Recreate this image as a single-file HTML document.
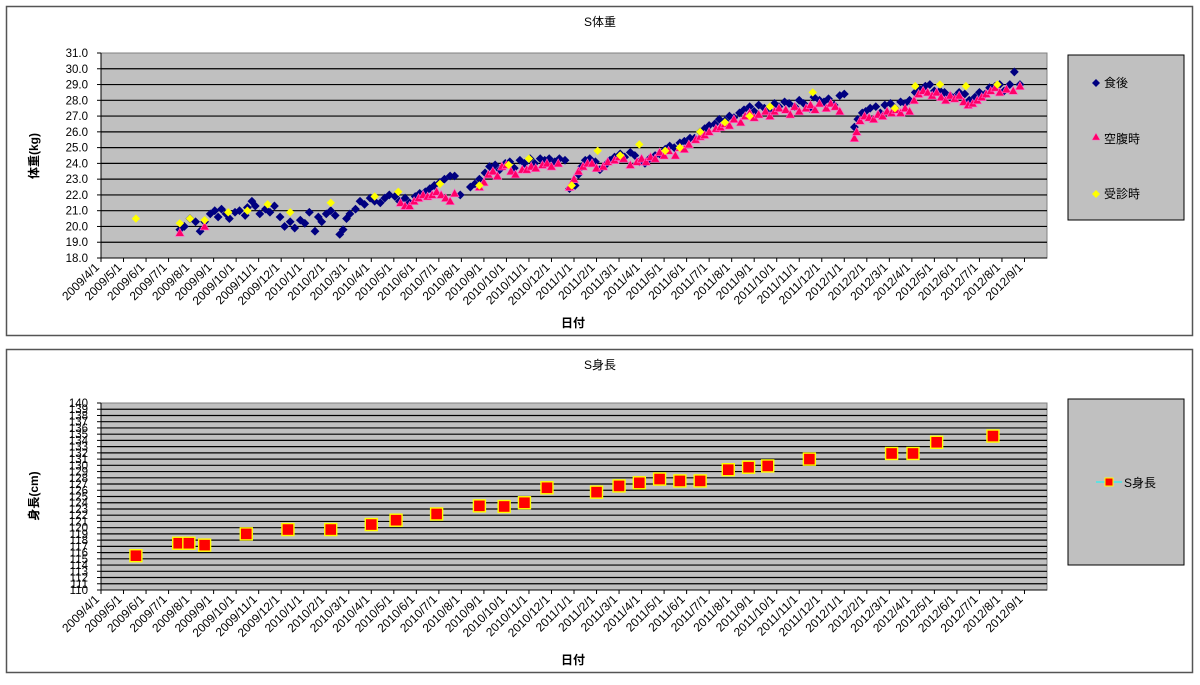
<!DOCTYPE html>
<html><head><meta charset="utf-8">
<style>
body{margin:0;background:#fff;width:1200px;height:680px;overflow:hidden;font-family:"Liberation Sans","Noto Sans CJK JP",sans-serif;}
svg text{font-family:"Liberation Sans","Noto Sans CJK JP",sans-serif;}
</style></head>
<body>
<svg id="s" width="1200" height="680" xmlns="http://www.w3.org/2000/svg">
<rect x="6.5" y="6.5" width="1186" height="329" fill="#fff" stroke="#555" stroke-width="1.5"/>
<rect x="6.5" y="349.5" width="1186" height="323" fill="#fff" stroke="#555" stroke-width="1.5"/>
<text x="600" y="26" font-size="12" text-anchor="middle">S体重</text>
<text x="600" y="369" font-size="12" text-anchor="middle">S身長</text>
<g id="topPlot"></g>
<g id="botPlot"></g>
<text transform="translate(38,156) rotate(-90)" font-size="12" font-weight="bold" text-anchor="middle">体重(kg)</text>
<text transform="translate(38,496) rotate(-90)" font-size="12" font-weight="bold" text-anchor="middle">身長(cm)</text>
<text x="573" y="327" font-size="12" font-weight="bold" text-anchor="middle">日付</text>
<text x="573" y="664" font-size="12" font-weight="bold" text-anchor="middle">日付</text>
<g>
<rect x="1068" y="55" width="116" height="165" fill="#c0c0c0" stroke="#000"/>
<g><path d="M1096 79 l4 4 -4 4 -4 -4z" fill="#000080"/><text x="1104" y="87" font-size="12">食後</text></g>
<g><path d="M1096 133 l4 7 -8 0z" fill="#ff0066" stroke="#ff66cc" stroke-width="0.5"/><text x="1104" y="143" font-size="12">空腹時</text></g>
<g><path d="M1096 190 l4 4 -4 4 -4 -4z" fill="#ffff00"/><text x="1104" y="198" font-size="12">受診時</text></g>
</g>
<g>
<rect x="1068" y="399" width="116" height="166" fill="#c0c0c0" stroke="#000"/>
<g><line x1="1096" y1="482" x2="1122" y2="482" stroke="#00ffff" stroke-width="1"/><rect x="1105" y="478" width="8" height="8" fill="#ff0000" stroke="#ffff00"/><text x="1124" y="487" font-size="12">S身長</text></g>
</g>
</svg>
<script>
const months=["2009/4/1","2009/5/1","2009/6/1","2009/7/1","2009/8/1","2009/9/1","2009/10/1","2009/11/1","2009/12/1","2010/1/1","2010/2/1","2010/3/1","2010/4/1","2010/5/1","2010/6/1","2010/7/1","2010/8/1","2010/9/1","2010/10/1","2010/11/1","2010/12/1","2011/1/1","2011/2/1","2011/3/1","2011/4/1","2011/5/1","2011/6/1","2011/7/1","2011/8/1","2011/9/1","2011/10/1","2011/11/1","2011/12/1","2012/1/1","2012/2/1","2012/3/1","2012/4/1","2012/5/1","2012/6/1","2012/7/1","2012/8/1","2012/9/1"];
const afterMealM=[3.5,3.7,3.95,4.2,4.4,4.6,4.85,5.05,5.2,5.35,5.55,5.7,5.95,6.15,6.4,6.5,6.7,6.85,7.05,7.3,7.5,7.7,7.95,8.15,8.4,8.6,8.85,9.05,9.25,9.5,9.65,9.8,10.0,10.2,10.4,10.6,10.75,10.9,11.05,11.3,11.5,11.7,11.95,12.15,12.4,12.6,12.8,13.05,13.25,13.5,13.7,13.95,14.15,14.4,14.6,14.8,15.05,15.25,15.5,15.7,15.95,16.4,16.6,16.8,17.05,17.25,17.5,17.7,17.95,18.15,18.35,18.6,18.8,19.05,19.25,19.5,19.7,19.9,20.15,20.35,20.6,20.8,21.05,21.2,21.35,21.5,21.7,21.95,22.15,22.4,22.6,22.8,23.05,23.25,23.5,23.7,23.9,24.15,24.35,24.6,24.8,25.05,25.25,25.45,25.7,25.9,26.15,26.35,26.6,26.8,27.0,27.25,27.45,27.7,27.9,28.1,28.35,28.55,28.8,29.0,29.2,29.45,29.7,29.9,30.1,30.35,30.55,30.8,31.0,31.2,31.45,31.65,31.9,32.1,32.3,32.55,32.8,33.0,33.45,33.6,33.8,33.95,34.15,34.4,34.6,34.8,35.05,35.25,35.5,35.7,35.9,36.15,36.35,36.6,36.8,37.0,37.25,37.45,37.7,37.9,38.1,38.35,38.55,38.8,39.0,39.25,39.45,39.7,39.9,40.1,40.35,40.55,40.8];
const afterMealV=[19.8,20.0,20.5,20.3,19.7,20.3,20.8,21.0,20.6,21.1,20.8,20.5,20.9,21.0,20.7,21.2,21.6,21.3,20.8,21.1,20.9,21.3,20.6,20.0,20.3,19.9,20.4,20.2,20.9,19.7,20.6,20.3,20.8,21.0,20.7,19.5,19.8,20.5,20.8,21.1,21.6,21.4,21.8,21.6,21.5,21.8,22.0,21.9,21.6,21.8,21.5,21.9,22.1,22.2,22.4,22.6,22.8,23.0,23.2,23.2,22.0,22.5,22.7,23.0,23.4,23.8,23.9,23.6,24.0,24.1,23.7,24.2,24.0,24.3,24.0,24.3,24.2,24.3,24.1,24.3,24.2,22.4,22.6,23.3,23.8,24.2,24.3,24.1,23.6,23.9,24.2,24.4,24.6,24.4,24.7,24.5,24.1,24.0,24.3,24.5,24.6,24.9,25.1,25.0,25.3,25.4,25.6,25.6,26.0,26.2,26.4,26.5,26.8,26.7,27.0,26.9,27.2,27.4,27.6,27.3,27.7,27.5,27.3,27.8,27.6,27.9,27.8,27.6,28.0,27.8,27.5,28.2,28.0,27.9,28.1,27.7,28.3,28.4,26.3,26.8,27.2,27.3,27.5,27.6,27.2,27.7,27.8,27.5,27.9,27.8,28.0,28.5,28.7,28.9,29.0,28.6,28.6,28.5,28.3,28.2,28.5,28.4,28.0,28.2,28.5,28.4,28.8,28.9,29.0,28.6,29.0,29.8,29.0];
const fastingM=[3.5,4.6,13.3,13.5,13.7,13.9,14.1,14.3,14.5,14.7,14.9,15.1,15.3,15.5,15.7,16.8,17.0,17.2,17.4,17.6,17.8,18.0,18.2,18.4,18.7,18.9,19.1,19.3,19.6,19.8,20.0,20.3,20.8,21.0,21.2,21.4,21.6,21.8,22.0,22.3,22.5,22.8,23.0,23.2,23.5,23.8,24.0,24.2,24.4,24.6,24.8,25.0,25.2,25.5,25.7,25.9,26.1,26.4,26.6,26.8,27.0,27.3,27.5,27.7,27.9,28.1,28.4,28.6,28.8,29.0,29.2,29.5,29.7,29.9,30.1,30.4,30.6,30.8,31.0,31.3,31.5,31.7,31.9,32.2,32.4,32.6,32.8,33.45,33.55,33.7,33.9,34.1,34.3,34.5,34.7,34.9,35.1,35.3,35.5,35.7,35.9,36.1,36.3,36.5,36.7,36.9,37.1,37.3,37.5,37.7,37.9,38.1,38.3,38.5,38.7,38.9,39.1,39.3,39.5,39.7,39.9,40.2,40.5,40.8];
const fastingV=[19.6,20.0,21.5,21.3,21.3,21.6,21.8,22.0,21.9,22.0,22.2,22.0,21.8,21.6,22.1,22.5,22.8,23.3,23.5,23.2,23.8,23.9,23.5,23.3,23.6,23.6,23.8,23.7,23.9,24.0,23.8,24.0,22.5,23.0,23.5,23.8,24.0,24.0,23.7,23.8,24.1,24.2,24.4,24.3,23.9,24.1,24.3,24.1,24.4,24.3,24.7,24.5,24.8,24.5,25.0,24.9,25.2,25.5,25.7,25.8,26.0,26.2,26.3,26.5,26.4,26.8,26.6,27.0,27.2,26.9,27.1,27.3,27.0,27.3,27.5,27.4,27.1,27.6,27.3,27.5,27.7,27.4,27.8,27.5,27.8,27.6,27.3,25.6,26.0,26.7,27.0,26.9,26.8,27.1,27.0,27.3,27.2,27.4,27.2,27.5,27.3,28.0,28.4,28.6,28.5,28.3,28.5,28.2,28.0,28.3,28.1,28.3,27.9,27.7,27.8,28.0,28.2,28.4,28.6,28.8,28.5,28.7,28.6,28.9];
const clinicM=[1.55,3.5,3.95,4.6,5.65,6.5,7.4,8.4,10.2,12.15,13.2,15.05,16.8,18.1,19.0,20.9,22.05,23.05,23.9,25.05,25.7,26.6,27.7,28.8,29.7,31.6,35.25,36.15,37.25,38.4,39.8];
const clinicV=[20.5,20.2,20.5,20.4,20.9,21.0,21.4,20.9,21.5,21.9,22.2,22.7,22.6,23.9,24.3,22.6,24.8,24.5,25.2,24.8,25.0,26.0,26.6,27.0,27.6,28.5,27.5,28.9,29.0,28.9,29.0];
const heightM=[1.55,3.45,3.9,4.6,6.45,8.3,10.2,12.0,13.1,14.9,16.8,17.9,18.8,19.8,22.0,23.0,23.9,24.8,25.7,26.6,27.85,28.75,29.6,31.45,35.1,36.05,37.1,39.6];
const heightV=[115.5,117.5,117.5,117.2,119,119.7,119.7,120.5,121.2,122.2,123.5,123.4,124,126.4,125.7,126.7,127.2,127.8,127.5,127.5,129.3,129.7,129.9,131,131.9,131.9,133.7,134.7];
const NS="http://www.w3.org/2000/svg";
const X0=101,X1=1047,NM=42;
function xs(m){return X0+(X1-X0)*m/NM;}
function mk(p,tag,at){const e=document.createElementNS(NS,tag);for(const k in at)e.setAttribute(k,at[k]);p.appendChild(e);return e;}
function axes(g,Y0,Y1,vmin,vmax,step,fmt){
  const ys=v=>Y1-(v-vmin)/(vmax-vmin)*(Y1-Y0);
  const bg=mk(g,'rect',{x:X0,y:Y0,width:X1-X0,height:Y1-Y0,fill:'#c0c0c0',stroke:'#808080'});
  
  
  for(let v=vmin;v<=vmax+1e-9;v+=step){
    const y=ys(v);
    if(v>vmin&&v<vmax-1e-9){const l=mk(g,'line',{x1:X0,x2:X1,y1:y,y2:y,stroke:'#000','stroke-width':1.2});
      
      }
    const t=mk(g,'text',{x:88,y:y+4,'font-size':11.5,'text-anchor':'end'});t.textContent=fmt(v);
    
    
    mk(g,'line',{x1:X0-4,x2:X0,y1:y,y2:y,stroke:'#000'});
  }
  mk(g,'line',{x1:X0,x2:X0,y1:Y0,y2:Y1,stroke:'#000'});
  mk(g,'line',{x1:X0,x2:X1,y1:Y1,y2:Y1,stroke:'#000'});
  months.forEach((s,i)=>{
    const x=xs(i);
    mk(g,'line',{x1:x,x2:x,y1:Y1,y2:Y1+4,stroke:'#000'});
    const t=mk(g,'text',{transform:`translate(${x-1},${Y1+10}) rotate(-45)`,'font-size':12,'text-anchor':'end'});t.textContent=s;
    
    
  });
  return ys;
}
const topG=document.getElementById('topPlot');
const ysT=axes(topG,53,258,18,31,1,v=>v.toFixed(1));
function diamond(g,x,y,r,c,name){const e=mk(g,'path',{d:`M${x} ${y-r}L${x+r} ${y}L${x} ${y+r}L${x-r} ${y}Z`,fill:c});
  
  }
afterMealM.forEach((m,i)=>diamond(topG,xs(m),ysT(afterMealV[i]),4.4,'#000080','after-meal-point'));
fastingM.forEach((m,i)=>{const x=xs(m),y=ysT(fastingV[i]);
  const e=mk(topG,'path',{d:`M${x} ${y-4.5}L${x+4.5} ${y+3.5}L${x-4.5} ${y+3.5}Z`,fill:'#ff0066',stroke:'#ff66cc','stroke-width':0.6});
  
  });
clinicM.forEach((m,i)=>diamond(topG,xs(m),ysT(clinicV[i]),4.2,'#ffff00','clinic-point'));
const botG=document.getElementById('botPlot');
const ysB=axes(botG,403,590,110,140,1,v=>String(v));
heightM.forEach((m,i)=>{const x=xs(m),y=ysB(heightV[i]);
  const e=mk(botG,'rect',{x:x-6,y:y-6,width:12,height:12,fill:'#ff0000',stroke:'#ffff00','stroke-width':1.4});
  
  });
</script>
</body></html>
